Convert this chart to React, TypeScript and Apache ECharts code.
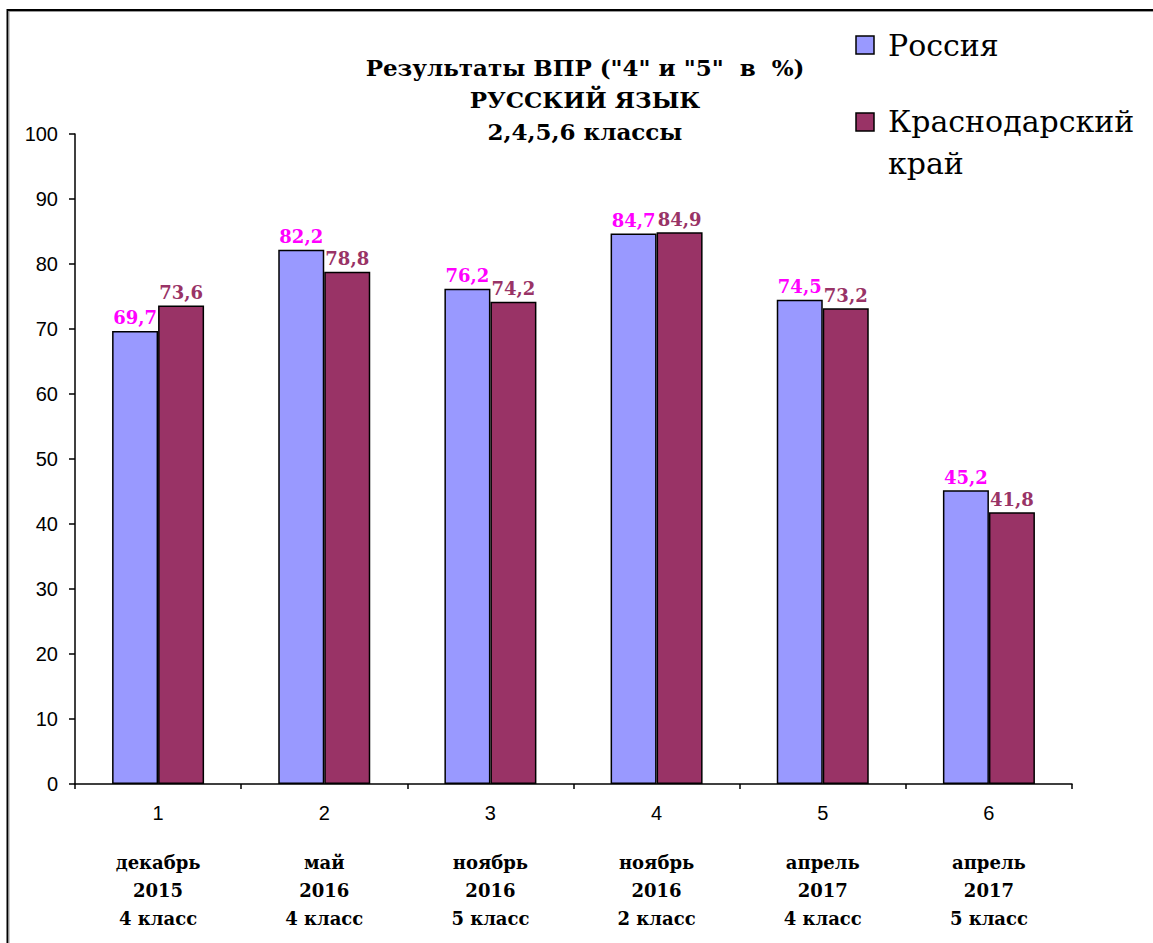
import React, { useEffect, useRef } from "react";
import * as echarts from "echarts";

const categories = ["1", "2", "3", "4", "5", "6"];
const periods = [
  ["декабрь", "2015", "4 класс"],
  ["май", "2016", "4 класс"],
  ["ноябрь", "2016", "5 класс"],
  ["ноябрь", "2016", "2 класс"],
  ["апрель", "2017", "4 класс"],
  ["апрель", "2017", "5 класс"],
];
const russia = [69.7, 82.2, 76.2, 84.7, 74.5, 45.2];
const krasnodar = [73.6, 78.8, 74.2, 84.9, 73.2, 41.8];
const seriesNames = ["Россия", "Краснодарский край"];
const titleLines = ['Результаты ВПР ("4" и "5"  в  %)', "РУССКИЙ ЯЗЫК", "2,4,5,6 классы"];

const SERIF = "DejaVu Serif";
const SANS = "Liberation Sans";

export default function App() {
  const ref = useRef<HTMLDivElement>(null);
  useEffect(() => {
    if (!ref.current) return;
    const chart = echarts.init(ref.current, null, { renderer: "svg" });
    const fmt = (p: any) => String(p.value).replace(".", ",");
    const labelBase = {
      show: true,
      position: "top",
      distance: 4,
      formatter: fmt,
      fontFamily: SERIF,
      fontWeight: "bold",
      fontSize: 18,
    };
    chart.setOption({
      animation: false,
      backgroundColor: "#ffffff",
      title: {
        text: titleLines.join("\n"),
        left: 580,
        top: 46,
        textAlign: "center",
        textStyle: {
          fontFamily: SERIF,
          fontWeight: "bold",
          fontSize: 23,
          lineHeight: 32,
          color: "#000",
        },
      },
      grid: {
        left: 75,
        right: 81,
        top: 134,
        bottom: 159,
        containLabel: false,
        outerBoundsMode: "none",
      },
      xAxis: {
        type: "category",
        data: categories,
        axisLine: { lineStyle: { color: "#000", width: 1.5 } },
        axisTick: { show: true, length: 5, interval: 0, lineStyle: { color: "#000", width: 1.5 } },
        axisLabel: {
          interval: 0,
          margin: 19,
          formatter: (v: string, i: number) =>
            `{n|${v}}\n{s| }\n` + periods[i].map((t) => `{d|${t}}`).join("\n"),
          rich: {
            n: { fontFamily: SANS, fontSize: 20, lineHeight: 20, color: "#000" },
            s: { fontSize: 10, lineHeight: 25 },
            d: {
              fontFamily: SERIF,
              fontWeight: "bold",
              fontSize: 18,
              lineHeight: 28,
              color: "#000",
            },
          },
        },
      },
      yAxis: {
        type: "value",
        min: 0,
        max: 100,
        interval: 10,
        axisLine: { show: true, lineStyle: { color: "#000", width: 1.5 } },
        axisTick: { show: true, length: 6, lineStyle: { color: "#000", width: 1.5 } },
        splitLine: { show: false },
        axisLabel: { fontFamily: SANS, fontSize: 20, color: "#000", margin: 17 },
      },
      series: [
        {
          name: seriesNames[0],
          type: "bar",
          data: russia,
          barWidth: 46,
          barGap: "0%",
          itemStyle: { color: "#9999FF", borderColor: "#000", borderWidth: 1.5 },
          label: { ...labelBase, color: "#FF00FF" },
        },
        {
          name: seriesNames[1],
          type: "bar",
          data: krasnodar,
          barWidth: 46,
          barGap: "0%",
          itemStyle: { color: "#993366", borderColor: "#000", borderWidth: 1.5 },
          label: { ...labelBase, color: "#993366" },
        },
      ],
      graphic: [
        { type: "line", shape: { x1: 7, y1: 10, x2: 1153, y2: 10 }, style: { stroke: "#000", lineWidth: 2 } },
        { type: "line", shape: { x1: 9, y1: 11.5, x2: 1153, y2: 11.5 }, style: { stroke: "#999", lineWidth: 1 } },
        { type: "line", shape: { x1: 7.5, y1: 9, x2: 7.5, y2: 943 }, style: { stroke: "#000", lineWidth: 2 } },
        { type: "line", shape: { x1: 9, y1: 11, x2: 9, y2: 943 }, style: { stroke: "#999", lineWidth: 1 } },
        {
          type: "rect",
          shape: { x: 856, y: 36, width: 18, height: 18 },
          style: { fill: "#9999FF", stroke: "#000", lineWidth: 1.5 },
        },
        {
          type: "text",
          x: 888,
          y: 45,
          style: {
            text: seriesNames[0],
            fontFamily: SERIF,
            fontSize: 30,
            fill: "#000",
            verticalAlign: "middle",
          },
        },
        {
          type: "rect",
          shape: { x: 856, y: 113, width: 18, height: 18 },
          style: { fill: "#993366", stroke: "#000", lineWidth: 1.5 },
        },
        {
          type: "text",
          x: 888,
          y: 100,
          style: {
            text: "Краснодарский\nкрай",
            fontFamily: SERIF,
            fontSize: 30,
            lineHeight: 42,
            fill: "#000",
            verticalAlign: "top",
          },
        },
      ],
    });
    return () => chart.dispose();
  }, []);
  return (
    <div
      ref={ref}
      style={{ position: "absolute", left: 0, top: 0, width: 1153, height: 943 }}
    />
  );
}
